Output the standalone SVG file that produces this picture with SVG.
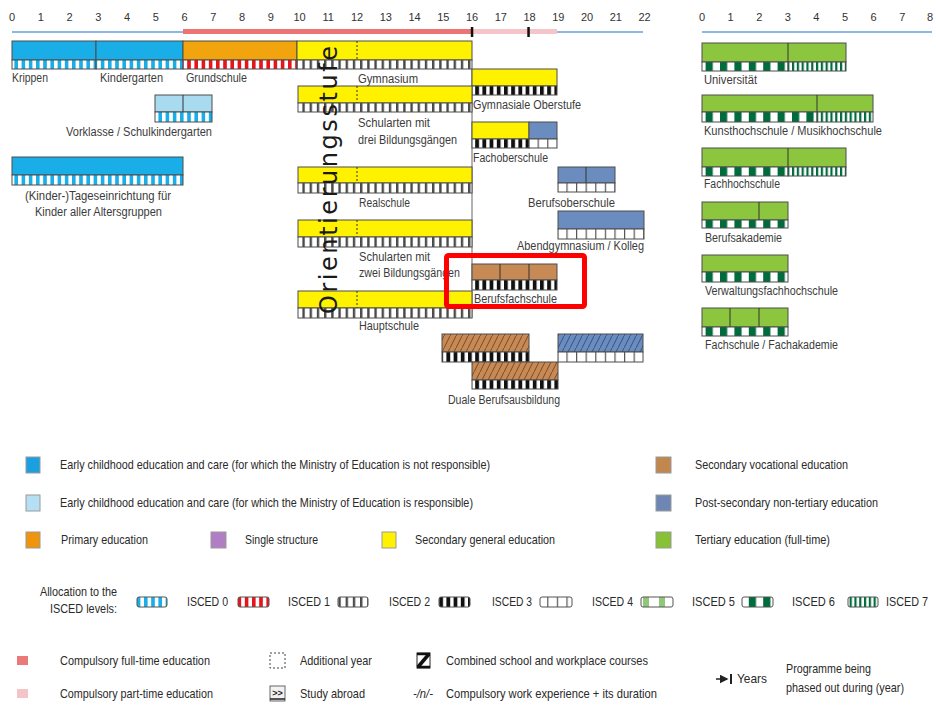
<svg xmlns="http://www.w3.org/2000/svg" width="936" height="708" viewBox="0 0 936 708">
<style>
text{font-family:"Liberation Sans",Arial,sans-serif}
.ax{font-size:11px;fill:#333;text-anchor:middle}
.lb{font-size:12px;fill:#3c3c3c}
.lg{font-size:13px;fill:#2a2a2a}
.b{stroke:#4d4d4d;stroke-width:1}
.dv{stroke:#333;stroke-width:1}
.dash{stroke:#333;stroke-width:1;stroke-dasharray:2 2}
.sw{stroke:#9a9a9a;stroke-width:1}
.ic{stroke:#555;stroke-width:1}
.cb{fill:#19aee8}.lbl{fill:#a8dbf0}.or{fill:#f2a40f}.ye{fill:#fff200}.br{fill:#c88a55}.bg{fill:#6b8cbf}.gr{fill:#8cc63e}
</style>
<defs>
<pattern id="i0" width="7.2" height="10" patternUnits="userSpaceOnUse"><rect width="7.2" height="10" fill="#fff"/><rect width="3.6" height="10" fill="#19aee8"/></pattern>
<pattern id="i1" width="7.2" height="10" patternUnits="userSpaceOnUse"><rect width="7.2" height="10" fill="#fff"/><rect width="3.6" height="10" fill="#e8141c"/></pattern>
<pattern id="i2" width="7.2" height="10" patternUnits="userSpaceOnUse"><rect width="7.2" height="10" fill="#fff"/><rect width="2.4" height="10" fill="#4a4a4a"/></pattern>
<pattern id="i3" width="7.2" height="10" patternUnits="userSpaceOnUse"><rect width="7.2" height="10" fill="#fff"/><rect width="3.8" height="10" fill="#111"/></pattern>
<pattern id="i4" width="9.6" height="10" patternUnits="userSpaceOnUse"><rect width="9.6" height="10" fill="#fff"/><rect width="1.2" height="10" fill="#555"/></pattern>
<pattern id="i5" width="16" height="10" patternUnits="userSpaceOnUse"><rect width="16" height="10" fill="#fff"/><rect x="3" width="6" height="10" fill="#8fc87a"/></pattern>
<pattern id="i6" width="14.4" height="10" patternUnits="userSpaceOnUse"><rect width="14.4" height="10" fill="#fff"/><rect width="7.2" height="10" fill="#006b3c"/></pattern>
<pattern id="i7" width="4.8" height="10" patternUnits="userSpaceOnUse"><rect width="4.8" height="10" fill="#fff"/><rect width="2.2" height="10" fill="#006b3c"/></pattern>
<pattern id="hb" width="6" height="12" patternUnits="userSpaceOnUse"><rect width="6" height="12" fill="#c88a55"/><path d="M0,12 L6,0" stroke="#6e4320" stroke-width="0.9"/></pattern>
<pattern id="hbl" width="6" height="12" patternUnits="userSpaceOnUse"><rect width="6" height="12" fill="#6b8cbf"/><path d="M0,12 L6,0" stroke="#2e4a78" stroke-width="0.9"/></pattern>
<marker id="ah" markerWidth="6" markerHeight="6" refX="5" refY="3" orient="auto"><path d="M0,0 L6,3 L0,6 z" fill="#222"/></marker>
</defs>
<rect width="936" height="708" fill="#fff"/>

<g id="axis-left">
<g class="ax">
<text x="12" y="21">0</text><text x="40.75" y="21">1</text><text x="69.5" y="21">2</text><text x="98.25" y="21">3</text><text x="127" y="21">4</text><text x="155.75" y="21">5</text><text x="184.5" y="21">6</text><text x="213.25" y="21">7</text><text x="242" y="21">8</text><text x="270.75" y="21">9</text><text x="299.5" y="21">10</text><text x="328.25" y="21">11</text><text x="357" y="21">12</text><text x="385.75" y="21">13</text><text x="414.5" y="21">14</text><text x="443.25" y="21">15</text><text x="472" y="21">16</text><text x="500.75" y="21">17</text><text x="529.5" y="21">18</text><text x="558.25" y="21">19</text><text x="587" y="21">20</text><text x="615.75" y="21">21</text><text x="644.5" y="21">22</text>
</g>
<line x1="12" y1="32" x2="183" y2="32" stroke="#8db8e6" stroke-width="2"/>
<line x1="183" y1="31.5" x2="472" y2="31.5" stroke="#ec7474" stroke-width="5"/>
<line x1="472" y1="31.5" x2="557" y2="31.5" stroke="#f6c5c9" stroke-width="5"/>
<line x1="557" y1="32" x2="643" y2="32" stroke="#8db8e6" stroke-width="2"/>
<rect x="470.8" y="27" width="2.5" height="10" fill="#111"/>
<rect x="527.3" y="27" width="2.5" height="10" fill="#111"/>
</g>
<g id="axis-right">
<g class="ax">
<text x="702" y="21">0</text><text x="730.6" y="21">1</text><text x="759.2" y="21">2</text><text x="787.8" y="21">3</text><text x="816.4" y="21">4</text><text x="845" y="21">5</text><text x="873.6" y="21">6</text><text x="902.2" y="21">7</text><text x="930" y="21">8</text>
</g>
<line x1="702" y1="32" x2="932" y2="32" stroke="#8db8e6" stroke-width="2"/>
</g>

<g id="connectors">
<line x1="472" y1="69" x2="472" y2="318" stroke="#666" stroke-width="1"/>
</g>

<g id="krippen">
<rect class="b cb" x="12" y="41" width="84" height="19"/>
<rect class="b" x="12" y="60" width="84" height="9" fill="url(#i0)"/>
<text class="lb" x="12" y="82" textLength="36" lengthAdjust="spacingAndGlyphs">Krippen</text>
</g>
<g id="kindergarten">
<rect class="b cb" x="96" y="41" width="87" height="19"/>
<rect class="b" x="96" y="60" width="87" height="9" fill="url(#i0)"/>
<text class="lb" x="100" y="82" textLength="63" lengthAdjust="spacingAndGlyphs">Kindergarten</text>
</g>
<g id="grundschule">
<rect class="b or" x="183" y="41" width="114" height="19"/>
<rect class="b" x="183" y="60" width="114" height="9" fill="url(#i1)"/>
<text class="lb" x="186" y="82" textLength="61" lengthAdjust="spacingAndGlyphs">Grundschule</text>
</g>
<g id="gymnasium">
<rect class="b ye" x="297" y="41" width="175" height="19"/>
<line class="dash" x1="357" y1="41" x2="357" y2="60"/>
<rect class="b" x="297" y="60" width="175" height="9" fill="url(#i2)"/>
<text class="lb" x="358" y="83" textLength="60" lengthAdjust="spacingAndGlyphs">Gymnasium</text>
</g>
<g id="gymnasiale-oberstufe">
<rect class="b ye" x="472" y="69" width="85" height="17"/>
<rect class="b" x="472" y="86" width="85" height="9" fill="url(#i3)"/>
<text class="lb" x="473" y="109" textLength="108" lengthAdjust="spacingAndGlyphs">Gymnasiale Oberstufe</text>
</g>
<g id="schularten-drei">
<rect class="b ye" x="298" y="86" width="174" height="17"/>
<line class="dash" x1="357" y1="86" x2="357" y2="103"/>
<rect class="b" x="298" y="103" width="174" height="9" fill="url(#i2)"/>
<text class="lb" x="358" y="127" textLength="72" lengthAdjust="spacingAndGlyphs">Schularten mit</text>
<text class="lb" x="358" y="144" textLength="99" lengthAdjust="spacingAndGlyphs">drei Bildungsgängen</text>
</g>
<g id="fachoberschule">
<rect class="b ye" x="472" y="122" width="57" height="17"/>
<rect class="b bg" x="529" y="122" width="28" height="17"/>
<rect class="b" x="472" y="139" width="57" height="9" fill="url(#i3)"/>
<rect class="b" x="529" y="139" width="28" height="9" fill="url(#i4)"/>
<text class="lb" x="473" y="162" textLength="75" lengthAdjust="spacingAndGlyphs">Fachoberschule</text>
</g>
<g id="vorklasse">
<rect class="b lbl" x="155" y="95" width="57" height="17"/>
<line class="dv" x1="183" y1="95" x2="183" y2="112"/>
<rect class="b" x="155" y="112" width="57" height="10" fill="url(#i0)"/>
<text class="lb" x="66" y="136" textLength="146" lengthAdjust="spacingAndGlyphs">Vorklasse / Schulkindergarten</text>
</g>
<g id="tageseinrichtung">
<rect class="b cb" x="12" y="157" width="171" height="18"/>
<rect class="b" x="12" y="175" width="171" height="10" fill="url(#i0)"/>
<text class="lb" x="25" y="200" textLength="146" lengthAdjust="spacingAndGlyphs">(Kinder-)Tageseinrichtung für</text>
<text class="lb" x="35" y="216" textLength="127" lengthAdjust="spacingAndGlyphs">Kinder aller Altersgruppen</text>
</g>
<g id="realschule">
<rect class="b ye" x="298" y="167" width="174" height="16"/>
<line class="dash" x1="357" y1="167" x2="357" y2="183"/>
<rect class="b" x="298" y="183" width="174" height="10" fill="url(#i2)"/>
<text class="lb" x="359" y="207" textLength="51" lengthAdjust="spacingAndGlyphs">Realschule</text>
</g>
<g id="berufsoberschule">
<rect class="b bg" x="558" y="167" width="57" height="16"/>
<line class="dv" x1="586" y1="167" x2="586" y2="183"/>
<rect class="b" x="558" y="183" width="57" height="9" fill="url(#i4)"/>
<text class="lb" x="528" y="207" textLength="87" lengthAdjust="spacingAndGlyphs">Berufsoberschule</text>
</g>
<g id="abendgymnasium">
<rect class="b bg" x="558" y="211" width="86" height="18"/>
<rect class="b" x="558" y="229" width="86" height="10" fill="url(#i4)"/>
<text class="lb" x="517" y="250" textLength="127" lengthAdjust="spacingAndGlyphs">Abendgymnasium / Kolleg</text>
</g>
<g id="schularten-zwei">
<rect class="b ye" x="298" y="220" width="174" height="17"/>
<line class="dash" x1="357" y1="220" x2="357" y2="237"/>
<rect class="b" x="298" y="237" width="174" height="10" fill="url(#i2)"/>
<text class="lb" x="359" y="261" textLength="71" lengthAdjust="spacingAndGlyphs">Schularten mit</text>
<text class="lb" x="359" y="277" textLength="101" lengthAdjust="spacingAndGlyphs">zwei Bildungsgängen</text>
</g>
<g id="berufsfachschule">
<rect class="b br" x="472" y="264" width="85" height="16"/>
<line class="dv" x1="500" y1="264" x2="500" y2="280"/>
<line class="dv" x1="529" y1="264" x2="529" y2="280"/>
<rect class="b" x="472" y="280" width="85" height="10" fill="url(#i3)"/>
<text class="lb" x="474" y="303" textLength="83" lengthAdjust="spacingAndGlyphs">Berufsfachschule</text>
</g>
<g id="hauptschule">
<rect class="b ye" x="298" y="291" width="174" height="17"/>
<line class="dash" x1="357" y1="291" x2="357" y2="308"/>
<rect class="b" x="298" y="308" width="174" height="10" fill="url(#i2)"/>
<text class="lb" x="359" y="330" textLength="60" lengthAdjust="spacingAndGlyphs">Hauptschule</text>
</g>
<g id="orientierungsstufe">
<text transform="translate(337,314) rotate(-90)" style="font-family:'DejaVu Sans',sans-serif;font-size:24px;fill:#1a1a1a" textLength="268" lengthAdjust="spacing">Orientierungsstufe</text>
</g>
<g id="duale-berufsausbildung">
<rect class="b" x="442" y="334" width="87" height="18" fill="url(#hb)"/>
<rect class="b" x="442" y="352" width="87" height="10" fill="url(#i3)"/>
<rect class="b" x="472" y="362" width="86" height="18" fill="url(#hb)"/>
<rect class="b" x="472" y="380" width="86" height="9" fill="url(#i3)"/>
<rect class="b" x="558" y="334" width="85" height="18" fill="url(#hbl)"/>
<rect class="b" x="558" y="352" width="85" height="10" fill="url(#i4)"/>
<text class="lb" x="448" y="404" textLength="112" lengthAdjust="spacingAndGlyphs">Duale Berufsausbildung</text>
</g>
<g id="highlight">
<rect x="446.5" y="255.5" width="138" height="51" rx="2" fill="none" stroke="#ff0000" stroke-width="5"/>
</g>

<g id="universitaet">
<rect class="b gr" x="702" y="43" width="144" height="19"/>
<line class="dv" x1="788" y1="43" x2="788" y2="62"/>
<rect class="b" x="702" y="62" width="86" height="9" fill="url(#i6)"/>
<rect class="b" x="788" y="62" width="58" height="9" fill="url(#i7)"/>
<text class="lb" x="704" y="84" textLength="53" lengthAdjust="spacingAndGlyphs">Universität</text>
</g>
<g id="kunsthochschule">
<rect class="b gr" x="702" y="95" width="171" height="17"/>
<line class="dv" x1="817" y1="95" x2="817" y2="112"/>
<rect class="b" x="702" y="112" width="115" height="10" fill="url(#i6)"/>
<rect class="b" x="817" y="112" width="56" height="10" fill="url(#i7)"/>
<text class="lb" x="704" y="135" textLength="178" lengthAdjust="spacingAndGlyphs">Kunsthochschule  / Musikhochschule</text>
</g>
<g id="fachhochschule">
<rect class="b gr" x="702" y="148" width="144" height="19"/>
<line class="dv" x1="788" y1="148" x2="788" y2="167"/>
<rect class="b" x="702" y="167" width="86" height="9" fill="url(#i6)"/>
<rect class="b" x="788" y="167" width="58" height="9" fill="url(#i7)"/>
<text class="lb" x="704" y="188" textLength="76" lengthAdjust="spacingAndGlyphs">Fachhochschule</text>
</g>
<g id="berufsakademie">
<rect class="b gr" x="702" y="202" width="86" height="18"/>
<line class="dv" x1="759" y1="202" x2="759" y2="220"/>
<rect class="b" x="702" y="220" width="86" height="8" fill="url(#i6)"/>
<text class="lb" x="705" y="242" textLength="77" lengthAdjust="spacingAndGlyphs">Berufsakademie</text>
</g>
<g id="verwaltungsfachhochschule">
<rect class="b gr" x="702" y="255" width="86" height="17"/>
<rect class="b" x="702" y="272" width="86" height="10" fill="url(#i6)"/>
<text class="lb" x="705" y="295" textLength="133" lengthAdjust="spacingAndGlyphs">Verwaltungsfachhochschule</text>
</g>
<g id="fachschule">
<rect class="b gr" x="702" y="308" width="86" height="19"/>
<line class="dv" x1="730" y1="308" x2="730" y2="327"/>
<line class="dv" x1="759" y1="308" x2="759" y2="327"/>
<rect class="b" x="702" y="327" width="86" height="9" fill="url(#i6)"/>
<text class="lb" x="705" y="349" textLength="133" lengthAdjust="spacingAndGlyphs">Fachschule / Fachakademie</text>
</g>

<g id="legend-sectors">
<rect class="sw" x="26" y="457" width="14" height="16" fill="#1a9fe0"/>
<text class="lg" x="60" y="469" textLength="430" lengthAdjust="spacingAndGlyphs">Early childhood education and care (for which the Ministry of Education is not responsible)</text>
<rect class="sw" x="26" y="495" width="14" height="16" fill="#b5dff2"/>
<text class="lg" x="60" y="507" textLength="413" lengthAdjust="spacingAndGlyphs">Early childhood education and care (for which the Ministry of Education is responsible)</text>
<rect class="sw" x="26" y="532" width="14" height="16" fill="#f0940c"/>
<text class="lg" x="61" y="544" textLength="87" lengthAdjust="spacingAndGlyphs">Primary education</text>
<rect class="sw" x="211" y="532" width="15" height="16" fill="#b17dc4"/>
<text class="lg" x="245" y="544" textLength="73" lengthAdjust="spacingAndGlyphs">Single structure</text>
<rect class="sw" x="382" y="532" width="14" height="16" fill="#fff200"/>
<text class="lg" x="415" y="544" textLength="140" lengthAdjust="spacingAndGlyphs">Secondary general education</text>
<rect class="sw" x="656" y="457" width="15" height="16" fill="#c1874f"/>
<text class="lg" x="695" y="469" textLength="153" lengthAdjust="spacingAndGlyphs">Secondary vocational education</text>
<rect class="sw" x="656" y="495" width="15" height="16" fill="#6e86b4"/>
<text class="lg" x="695" y="507" textLength="183" lengthAdjust="spacingAndGlyphs">Post-secondary non-tertiary education</text>
<rect class="sw" x="656" y="532" width="15" height="16" fill="#86c234"/>
<text class="lg" x="695" y="544" textLength="135" lengthAdjust="spacingAndGlyphs">Tertiary education (full-time)</text>
</g>

<g id="legend-isced">
<text class="lg" x="117" y="596" text-anchor="end" textLength="77" lengthAdjust="spacingAndGlyphs">Allocation to the</text>
<text class="lg" x="117" y="613" text-anchor="end" textLength="67" lengthAdjust="spacingAndGlyphs">ISCED levels:</text>
<rect class="ic" x="137" y="597" width="30" height="10" rx="2" fill="url(#i0)"/>
<text class="lg" x="187" y="606" textLength="41" lengthAdjust="spacingAndGlyphs">ISCED 0</text>
<rect class="ic" x="238" y="597" width="31" height="10" rx="2" fill="url(#i1)"/>
<text class="lg" x="288" y="606" textLength="42" lengthAdjust="spacingAndGlyphs">ISCED 1</text>
<rect class="ic" x="338" y="597" width="30" height="10" rx="2" fill="url(#i2)"/>
<text class="lg" x="389" y="606" textLength="41" lengthAdjust="spacingAndGlyphs">ISCED 2</text>
<rect class="ic" x="439" y="597" width="31" height="10" rx="2" fill="url(#i3)"/>
<text class="lg" x="492" y="606" textLength="40" lengthAdjust="spacingAndGlyphs">ISCED 3</text>
<rect class="ic" x="540" y="597" width="32" height="10" rx="2" fill="url(#i4)"/>
<text class="lg" x="592" y="606" textLength="41" lengthAdjust="spacingAndGlyphs">ISCED 4</text>
<rect class="ic" x="641" y="597" width="32" height="10" rx="2" fill="url(#i5)"/>
<text class="lg" x="692" y="606" textLength="43" lengthAdjust="spacingAndGlyphs">ISCED 5</text>
<rect class="ic" x="742" y="597" width="31" height="10" rx="2" fill="url(#i6)"/>
<text class="lg" x="792" y="606" textLength="43" lengthAdjust="spacingAndGlyphs">ISCED 6</text>
<rect class="ic" x="848" y="597" width="30" height="10" rx="2" fill="url(#i7)"/>
<text class="lg" x="886" y="606" style="font-size:12px" textLength="42" lengthAdjust="spacingAndGlyphs">ISCED 7</text>
</g>

<g id="legend-symbols">
<rect x="17" y="656" width="11" height="9" fill="#ea7a7a"/>
<text class="lg" x="60" y="665" textLength="150" lengthAdjust="spacingAndGlyphs">Compulsory full-time education</text>
<rect x="17" y="689" width="11" height="9" fill="#f5c4c8"/>
<text class="lg" x="60" y="698" textLength="153" lengthAdjust="spacingAndGlyphs">Compulsory part-time education</text>
<rect x="270" y="653" width="15" height="15" fill="none" stroke="#444" stroke-width="1" stroke-dasharray="2 2"/>
<text class="lg" x="300" y="665" textLength="72" lengthAdjust="spacingAndGlyphs">Additional year</text>
<rect x="270" y="686" width="15" height="15" fill="#f2f2f2" stroke="#666" stroke-width="1"/>
<text x="277.5" y="696" text-anchor="middle" style="font-size:9px;fill:#222;font-weight:bold">&gt;&gt;</text>
<line x1="270" y1="699" x2="285" y2="699" stroke="#222" stroke-width="1.5"/>
<text class="lg" x="300" y="698" textLength="65" lengthAdjust="spacingAndGlyphs">Study abroad</text>
<rect x="417" y="653" width="13" height="15" fill="#fff" stroke="#222" stroke-width="1"/>
<path d="M417,654 H430 M417,667 H430" stroke="#111" stroke-width="2.5"/>
<path d="M418,667 L429,654" stroke="#111" stroke-width="3.5"/>
<text class="lg" x="446" y="665" textLength="202" lengthAdjust="spacingAndGlyphs">Combined school and workplace courses</text>
<text class="lg" x="413" y="698" textLength="20" lengthAdjust="spacingAndGlyphs" style="font-style:italic">-/n/-</text>
<text class="lg" x="446" y="698" textLength="211" lengthAdjust="spacingAndGlyphs">Compulsory work experience + its duration</text>
<line x1="716" y1="679" x2="727" y2="679" stroke="#222" stroke-width="1.5" marker-end="url(#ah)"/>
<line x1="731" y1="674" x2="731" y2="684" stroke="#222" stroke-width="2"/>
<text class="lg" x="737" y="683" textLength="30" lengthAdjust="spacingAndGlyphs">Years</text>
<text class="lg" x="786" y="673" textLength="85" lengthAdjust="spacingAndGlyphs">Programme being</text>
<text class="lg" x="786" y="692" textLength="118" lengthAdjust="spacingAndGlyphs">phased out during (year)</text>
</g>
</svg>
